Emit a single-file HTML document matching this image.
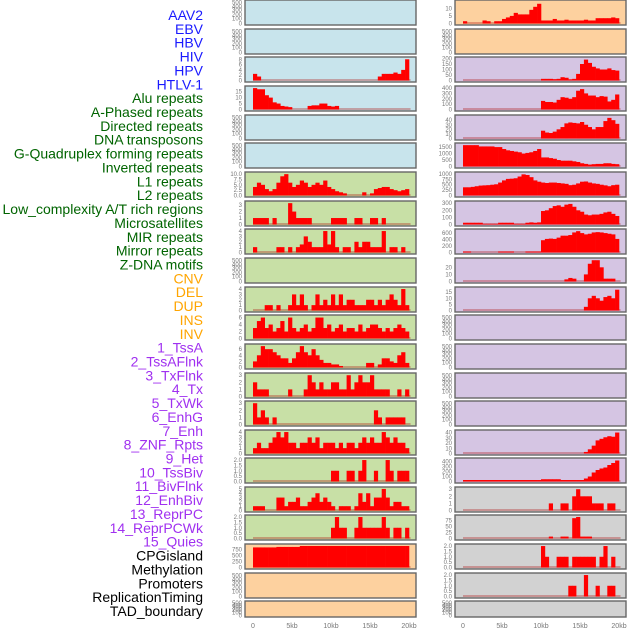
<!DOCTYPE html>
<html><head><meta charset="utf-8"><style>
body{margin:0;background:#fff;width:630px;height:630px;overflow:hidden}
svg{display:block;font-family:"Liberation Sans",sans-serif}
</style></head><body>
<svg id="chart" width="630" height="630"></svg>
<script>
const labelNames=["AAV2","EBV","HBV","HIV","HPV","HTLV-1","Alu repeats","A-Phased repeats","Directed repeats","DNA transposons","G-Quadruplex forming repeats","Inverted repeats","L1 repeats","L2 repeats","Low_complexity A/T rich regions","Microsatellites","MIR repeats","Mirror repeats","Z-DNA motifs","CNV","DEL","DUP","INS","INV","1_TssA","2_TssAFlnk","3_TxFlnk","4_Tx","5_TxWk","6_EnhG","7_Enh","8_ZNF_Rpts","9_Het","10_TssBiv","11_BivFlnk","12_EnhBiv","13_ReprPC","14_ReprPCWk","15_Quies","CPGisland","Methylation","Promoters","ReplicationTiming","TAD_boundary"];
const labelGroups=[6,13,5,15,5];
const groupColors=["#1a1aff","#006400","#ffa500","#a030f0","#000000"];
const xTicks=[0,5000,10000,15000,20000];
const xTickLabels=["0","5kb","10kb","15kb","20kb"];
const Z=[0,0,0,0,0,0,0,0,0,0,0,0,0,0,0,0,0,0,0,0,0,0,0,0,0,0,0,0,0,0,0,0,0,0,0,0,0,0,0,0];
const L3=[2.5,1.5,0,0,0,0,0,0,0,0,0,0,0,0,0,0,0,0,0,0,0,0,0,0,0,0,0,0,0,0,0,0,1.5,2.5,2.5,2.5,3,2.5,4,8];
const L4=[18,17,17,12,10,6,5,3,2.5,2,0,0,0,0,3,3.5,3.5,5,5,3,2.5,3,0,0,0,0,0,0,0,0,0,0,0,0,0,0,0,0,0,0];
const L7=[4,6,5,3,2,3,6,9,10,6,4,5,7,6,4,5,6,5,7,4,3,2,1.5,1,0,0,0,0,1.5,0,1,3,3.5,4,4,3,2.5,2,2.5,3];
const L8=[1,1,1,1,0,1,0,0,0,3.3,2,1,1,1,1,0,0,0,0,0,1,1,1,1,0,0,1,1,0,0,1,1,0,1,0,0,0,0,0,0];
const L9=[1,0,0,0,0,0,1,1,0,1,0,1,1.5,3,2,1,1,1,4,1.5,4,1,0,1,1,0,2,1,2,2,1,1,1,4,0,1,1,0,1,0];
const L11=[0,0,0,1,1,0,1,0,0,1,3,1,3,1,0,1,3,1,2,1,3,1,3,1,2,2,1,1,1,2,2,1,2,1,2,3,2,1,4,1];
const L12=[3,5,6,3,4,2,3,5,2,6,3,2,3,4,2,3,6,6,3,4,2,3,4,2,3,3,2,4,2,3,4,4,3,2,3,2,3,4,3,2];
const L13=[2,4,7,6,6,5,4,3,3,1.5,3,5,7,5,4,6,4,2.5,1.5,1.5,1,1,0.5,0,0,0,0,0,0,1.5,1.5,0,1,3,3,2,1.5,4,5,1.5];
const L14=[2,1,1,1,0,0,0,0,0,1,0,0,0,1,3,2,1,2,1,1,2,2,1,1,3,1,2,3,2,2,3,1,1,1,1,0,0,1,0,1];
const L15=[3,1,2,1,0,1,0,0,0,0,0,0,0,0,0,0,0,0,0,0,0,0,0,0,0,0,0,0,0,0,0,2,1,0,1,1,1,1,1,0];
const L16=[1,2,1,1,2,3,4,3,4,2,2,1,2,2,3,2,3,1,2,2,2,1,2,1,2,2,1,2,3,2,3,2,2,4,3,2,3,2,2,1];
const L17=[0,0,0,0,0,0,0,0,0,0,0,0,0,0,0,0,0,0,0,0,1,1,0,0,1,1,0,1,2,0,0,1,0,0,2,1,0,1,1,1];
const L18=[1,1,1,0,0,0,3,3,1,2,2,3,1,1,2,3,4,2,3,2,1,0,1,1,1,0,1,4,2,4,1,3,3,5,3,1,2,2,1,1];
const L19=[0,0,0,0,0,0,0,0,0,0,0,0,0,0,0,0,0,0,0,0,1,2,1,1,0,0,1,2,1,1,1,1,1,2,1,0,1,1,0,1];
const L20=[840,840,840,840,840,840,860,860,860,860,860,860,900,900,900,900,900,900,900,900,900,900,900,900,900,900,900,900,900,900,900,900,900,900,900,900,900,900,900,900];
const R1=[1.5,0,0,0,0,2,1.5,0,1.5,1.5,3,4,5,7,6,6,6,9,11,13,2,2,2,3,2,2,2.5,2,2,2,2,2.5,2,2,3.5,3.5,3.5,3.5,4,3.5];
const R3=[0,0,0,0,0,0,0,0,0,0,0,0,0,0,0,0,0,0,0,0,15,15,15,12,15,30,25,10,15,60,150,190,160,125,110,100,100,110,95,90];
const R4=[0,0,0,0,0,0,0,0,0,0,0,0,0,0,0,0,0,0,0,0,160,140,140,130,180,230,220,200,230,350,380,300,260,260,230,250,240,150,180,280];
const R5=[0,0,0,0,0,0,0,0,0,0,0,0,0,0,0,0,0,0,0,0,17,13,12,15,20,25,33,35,34,33,36,30,25,20,25,25,38,45,40,32];
const R6=[1650,1650,1650,1650,1550,1550,1550,1550,1500,1500,1350,1250,1200,1150,1100,1000,1050,1100,1200,1350,700,700,650,600,500,450,450,450,400,350,250,200,150,180,200,200,250,250,200,180];
const R7=[380,380,400,430,460,470,480,500,520,600,700,770,780,800,880,980,950,850,700,640,600,580,600,600,580,560,540,480,500,560,640,650,600,560,540,500,470,430,480,500];
const R8=[25,25,25,25,25,10,10,10,10,25,25,25,25,10,10,10,25,30,25,30,190,200,230,260,270,250,280,290,250,200,180,140,130,140,140,150,170,180,150,120];
const R9=[30,30,0,0,0,0,0,0,0,30,30,30,30,0,0,0,30,30,30,30,380,420,430,420,460,520,520,540,620,660,600,560,580,620,630,620,600,580,560,420];
const R10=[0,0,0,0,0,0,0,0,0,0,0,0,0,0,0,0,0,0,0,0,0,0,0,0,0,0,3,5,4,0,0,10,25,30,30,20,4,4,4,0];
const R11=[0,0,0,0,0,0,0,0,0,0,0,0,0,0,0,0,0,0,0,0,0,0,0,0,0,0,0,0,0,0,0,3,10,12,10,8,11,12,10,17];
const R16=[0,0,0,0,0,0,0,0,0,0,0,0,0,0,0,0,0,0,0,0,0,0,0,0,0,0,0,0,0,0,0,3,8,15,25,28,31,33,32,40];
const R17=[30,30,30,30,30,30,30,30,30,30,30,30,30,30,30,30,30,30,30,30,45,45,45,45,45,30,30,30,30,30,30,60,100,180,230,260,280,330,370,420];
const R18=[0,0,0,0,0,0,0,0,0,0,0,0,0,0,0,0,0,0,0,0,0,0,1,0,0,1,1,0,2,3,2,2,2,1,1,1,0,1,1,0];
const R19=[0,0,0,0,0,0,0,0,0,0,0,0,0,0,0,0,0,0,0,0,0,0,8,0,0,8,8,0,85,90,8,8,8,0,0,0,0,0,0,0];
const R20=[0,0,0,0,0,0,0,0,0,0,0,0,0,0,0,0,0,0,0,0,2,1,0,0,1,1,1,0,1,1,1,1,1,1,0,1,2,0,1,0];
const R21=[0,0,0,0,0,0,0,0,0,0,0,0,0,0,0,0,0,0,0,0,0,0,0,0,0,0,0,1,1,0,0,2,0,0,1,0,0,1,1,0];
const T500=[0,100,200,300,400,500];
const T4=[0,1,2,3,4];const T3=[0,1,2,3];const T2=[0,0.5,1,1.5,2];
const BLUE="#c8e4ec",GREEN="#c8e0a6",ORANGE="#fdd19f",PURPLE="#d5c5e3",GRAY="#d2d2d2";
const rowTops=[0,29,57,86,115,143,172,201,229,258,287,315,344,373,401,430,458,487,515,544,573,601];
const leftData=[Z,Z,L3,L4,Z,Z,L7,L8,L9,Z,L11,L12,L13,L14,L15,L16,L17,L18,L19,L20,Z,Z];
const leftMax=[0,0,8.3,18.5,0,0,10.3,3.4,4.1,0,4.1,6.3,7.2,3.1,3.1,4.1,2.05,5.1,2.05,920,0,0];
const leftTicks=[T500,T500,[0,2,4,6,8],[0,5,10,15],T500,T500,[0,2.5,5,7.5,10],T3,T4,T500,T4,[0,2,4,6],[0,2,4,6],T3,T3,T4,T2,[0,1,2,3,4,5],T2,[0,250,500,750],T500,T500];
const leftColors=[BLUE,BLUE,BLUE,BLUE,BLUE,BLUE,GREEN,GREEN,GREEN,GREEN,GREEN,GREEN,GREEN,GREEN,GREEN,GREEN,GREEN,GREEN,GREEN,ORANGE,ORANGE,ORANGE];
const rightData=[R1,Z,R3,R4,R5,R6,R7,R8,R9,R10,R11,Z,Z,Z,Z,R16,R17,R18,R19,R20,R21,Z];
const rightMax=[14.5,0,200,410,48,1700,1020,310,680,31,18,0,0,0,0,42,440,3.1,92,2.05,2.05,0];
const rightTicks=[[0,5,10],T500,[0,50,100,150,200],[0,100,200,300,400],[0,10,20,30,40],[0,500,1000,1500],[0,250,500,750,1000],[0,100,200,300],[0,200,400,600],[0,10,20],[0,5,10,15],T500,T500,T500,T500,[0,10,20,30,40],[0,100,200,300,400],T3,[0,25,50,75],T2,T2,T500];
const rightColors=[ORANGE,ORANGE,PURPLE,PURPLE,PURPLE,PURPLE,PURPLE,PURPLE,PURPLE,PURPLE,PURPLE,PURPLE,PURPLE,PURPLE,PURPLE,PURPLE,PURPLE,GRAY,GRAY,GRAY,GRAY,GRAY];

const NS="http://www.w3.org/2000/svg";
const svg=document.getElementById("chart");
function mk(tag,attrs,parent){const e=document.createElementNS(NS,tag);for(const k in attrs)e.setAttribute(k,attrs[k]);(parent||svg).appendChild(e);return e;}

// labels
let li=0;
labelGroups.forEach((n,g)=>{for(let j=0;j<n;j++){
  const t=mk("text",{x:203,y:(15+li*13.86+5).toFixed(1),"text-anchor":"end","font-size":"14",fill:groupColors[g]});
  
  
  t.textContent=labelNames[li];li++;}});

const BIN=500;
const symPos=[0,0.22,0.42,0.62,0.78,0.95];
function fmt(v,ticks){const dec=ticks.some(t=>t%1!==0&&t!==2.5&&t!==7.5)?1:(ticks.includes(2.5)?1:0);return v.toFixed(dec);}
function drawPanel(px,x0,x1,top,h,data,ymax,ticks,color,tickX,side){
  const g=mk("g",{});
  
  
  mk("rect",{x:px,y:top,width:171,height:h,fill:color,stroke:"#666","stroke-width":1.4},g);
  const bottom=top+h-1.5, inner=h-3;
  const xs=v=>x0+(x1-x0)*v/20000;
  const ys=v=>bottom-inner*v/ymax;
  // ticks
  ticks.forEach((t,k)=>{
    const yy= ymax? ys(t) : bottom-inner*symPos[k];
    const tt=mk("text",{x:tickX,y:(yy+2).toFixed(1),"text-anchor":"end","font-size":"6",fill:"#777"},g);
    
    
    tt.textContent= ymax?fmt(t,ticks):String(t);
  });
  if(!ymax) return;
  mk("line",{x1:xs(0),x2:xs(20200),y1:bottom-0.5,y2:bottom-0.5,stroke:"rgba(170,0,0,0.4)","stroke-width":1.5},g);
  data.forEach((v,i)=>{ if(v<=0) return;
    const r=mk("rect",{x:xs(i*BIN).toFixed(2),width:(xs(BIN)-xs(0)+0.3).toFixed(2),y:ys(v).toFixed(2),height:(bottom-ys(v)).toFixed(2),fill:"#ff0000"},g);
    
    
  });
}
rowTops.forEach((top,i)=>{
  const h=i===21?16:25;
  drawPanel(245,253,409,top,h,leftData[i],leftMax[i],leftTicks[i],leftColors[i],242,'left');
  drawPanel(455,463,619,top,h,rightData[i],rightMax[i],rightTicks[i],rightColors[i],452,'right');
});
// x ticks
[[253,409],[463,619]].forEach(([a,b])=>{
  xTicks.forEach((t,k)=>{
    const tx=mk("text",{x:(a+(b-a)*t/20000).toFixed(1),y:628,"text-anchor":"middle","font-size":"7",fill:"#777"});
    
    
    tx.textContent=xTickLabels[k];
  });
});
</script>
</body></html>
